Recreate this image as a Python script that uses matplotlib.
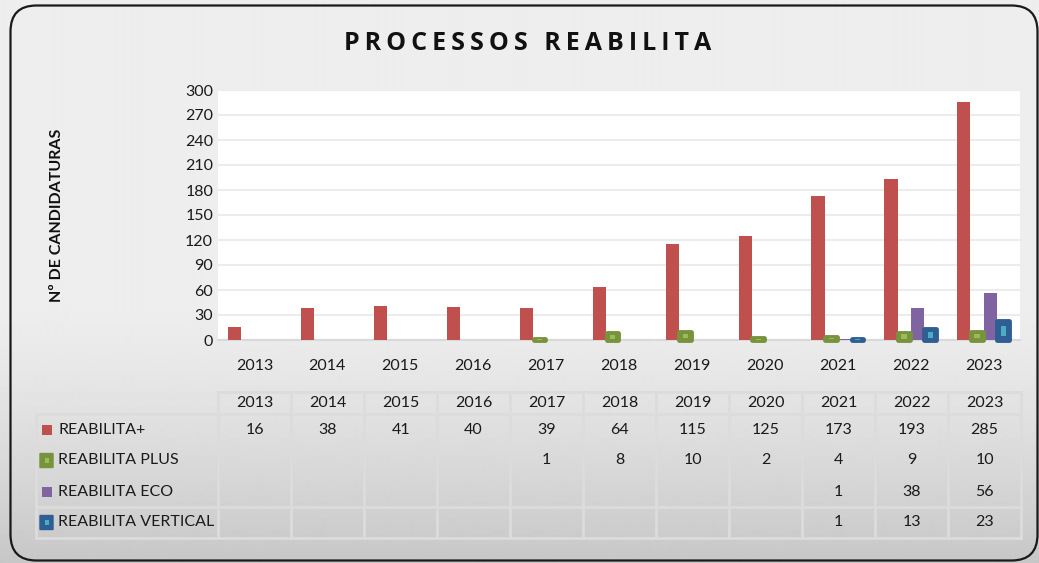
import numpy as np
import matplotlib
matplotlib.use("Agg")
import matplotlib.pyplot as plt
from matplotlib.patches import FancyBboxPatch, Rectangle

# data
anos = ["2013", "2014", "2015", "2016", "2017", "2018", "2019", "2020", "2021", "2022", "2023"]
reab_mais = [16, 38, 41, 40, 39, 64, 115, 125, 173, 193, 285]
reab_plus = [None, None, None, None, 1, 8, 10, 2, 4, 9, 10]
reab_eco = [None, None, None, None, None, None, None, None, 1, 38, 56]
reab_vert = [None, None, None, None, None, None, None, None, 1, 13, 23]
series_names = ["REABILITA+", "REABILITA PLUS", "REABILITA ECO", "REABILITA VERTICAL"]
yticks = list(range(0, 301, 30))
titulo = "PROCESSOS REABILITA"

red = "#c0504d"
green = "#77933c"
green_in = "#9bbb59"
purple = "#8064a2"
blue = "#2f5f92"
blue_in = "#4bacc6"
font = ["Lato", "DejaVu Sans"]

W, H = 1039, 563
fig = plt.figure(figsize=(W / 100, H / 100), dpi=100)

# background gradient
bg = fig.add_axes([0, 0, 1, 1], zorder=-10)
rows = np.arange(H) / (H - 1)
g = 0.93 - 0.15 * np.clip((rows - 0.55) / 0.45, 0, 1) ** 1.3
bg.imshow(np.tile(g[:, None], (1, 4)), cmap="gray", vmin=0, vmax=1, aspect="auto",
          extent=[0, W, H, 0], interpolation="bilinear")
bg.set_xlim(0, W)
bg.set_ylim(H, 0)
bg.axis("off")
border = FancyBboxPatch((10.5, 5.5), 1027, 555, boxstyle="round,pad=0,rounding_size=26",
                        fill=False, ec="#1a1a1a", lw=1.6)
bg.add_patch(border)

fig.text(528 / W, 1 - 44 / H, "\u200a\u200a".join(titulo),
         ha="center", va="center", fontsize=18, fontweight="bold", color="#111111",
         family=["Open Sans", "DejaVu Sans"])

# main chart
ax = fig.add_axes([218 / W, 1 - 340 / H, 802 / W, 250 / H])
ax.set_facecolor("white")
x = np.arange(len(anos))
bw = 0.18
off = [-0.27, -0.09, 0.09, 0.27]

def vals(v):
    return np.array([np.nan if a is None else a for a in v], dtype=float)

ax.bar(x + off[0], reab_mais, bw, color=red, zorder=3)
ax.bar(x + off[2], vals(reab_eco), bw, color=purple, zorder=3)
for v, c, ci, o in [(vals(reab_plus), green, green_in, off[1]), (vals(reab_vert), blue, blue_in, off[3])]:
    ax.bar(x + o, v, bw * 0.9, color=c, ec=c, lw=3.5, joinstyle="round", zorder=4, clip_on=False)
    ax.bar(x + o, v * 0.55, bw * 0.4, bottom=v * 0.2, color=ci, zorder=5, clip_on=False)

ax.set_xlim(-0.5, len(anos) - 0.5)
ax.set_ylim(0, 300)
ax.set_yticks(yticks)
ax.set_xticks(x)
ax.set_xticklabels(anos)
ax.grid(axis="y", color="#ececec", lw=1.5, zorder=0)
ax.tick_params(length=0, labelsize=11.5, colors="#1a1a1a")
ax.tick_params(axis="x", pad=14)
for t in ax.get_xticklabels() + ax.get_yticklabels():
    t.set_family(font)
for s in ["top", "right", "left"]:
    ax.spines[s].set_visible(False)
ax.spines["bottom"].set_color("#d9d9d9")
ax.spines["bottom"].set_linewidth(1.5)

fig.text(57 / W, 1 - 215 / H, "Nº DE CANDIDATURAS", rotation=90, ha="center", va="center",
         fontsize=11.5, fontweight="bold", color="#111111", family=font)

# data table
cw = 802 / len(anos)
lab = (218 - 36) / cw
tax = fig.add_axes([36 / W, 1 - 538 / H, (1021 - 36) / W, (538 - 392) / H])
tax.set_xlim(-0.5 - lab, len(anos) - 0.5)
tax.set_ylim(538, 392)
tax.axis("off")
edges = [392, 414, 445, 476, 507, 538]
lc = "#dcdcdc"
for i in range(len(anos) + 1):
    tax.plot([i - 0.5, i - 0.5], [edges[0], edges[-1]], color=lc, lw=2, clip_on=False)
tax.plot([-0.5, len(anos) - 0.5], [edges[0], edges[0]], color=lc, lw=2, clip_on=False)
for e in [edges[1], edges[2], edges[4], edges[5]]:
    tax.plot([-0.5 - lab, len(anos) - 0.5], [e, e], color=lc, lw=2, clip_on=False)
tax.plot([-0.5 - lab, -0.5 - lab], [edges[1], edges[-1]], color=lc, lw=2, clip_on=False)

for i, a in enumerate(anos):
    tax.text(i, (edges[0] + edges[1]) / 2, a, ha="center", va="center", fontsize=11.5,
             color="#1a1a1a", family=font)

data_rows = [reab_mais, reab_plus, reab_eco, reab_vert]
mk = [(red, None, False), (green, green_in, True), (purple, None, False), (blue, blue_in, True)]
x0 = -0.5 - lab
for r, (row, name) in enumerate(zip(data_rows, series_names)):
    yc = (edges[r + 1] + edges[r + 2]) / 2
    for i, v in enumerate(row):
        if v is not None:
            tax.text(i, yc, str(v), ha="center", va="center", fontsize=11.5,
                     color="#1a1a1a", family=font)
    c, ci, rounded = mk[r]
    if rounded:
        tax.add_patch(FancyBboxPatch((x0 + 4 / cw, yc - 7), 13 / cw, 14,
                                     boxstyle="round,pad=0,rounding_size=0.03",
                                     fc=c, ec=c, lw=1, clip_on=False,
                                     mutation_aspect=1 / cw * 60))
        tax.add_patch(Rectangle((x0 + 8.5 / cw, yc - 2.5), 4 / cw, 5, fc=ci, ec="none",
                                clip_on=False, zorder=3))
    else:
        tax.add_patch(Rectangle((x0 + 6 / cw, yc - 5), 10 / cw, 10, fc=c, ec="none", clip_on=False))
    tax.text(x0 + 22 / cw, yc, name, ha="left", va="center", fontsize=11.5,
             color="#1a1a1a", family=font)

fig.savefig("out.png", dpi=100)
